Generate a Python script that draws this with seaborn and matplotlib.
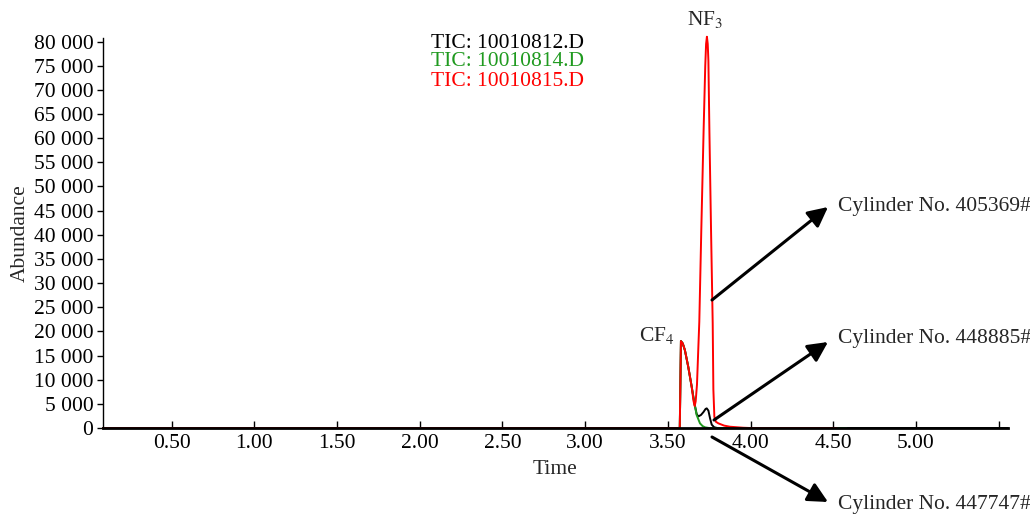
import matplotlib
matplotlib.use("Agg")
import matplotlib.pyplot as plt
from matplotlib.ticker import FuncFormatter, MultipleLocator
import numpy as np
import pandas as pd
import seaborn as sns

# TIC traces (time in min, abundance)
t_812 = [0.085, 3.572, 3.579, 3.590, 3.603, 3.623, 3.644, 3.660, 3.674, 3.684,
         3.700, 3.715, 3.728, 3.735, 3.745, 3.755, 3.765, 3.780, 3.800, 5.556]
a_812 = [0, 0, 18000, 17500, 16100, 12700, 8540, 5200, 2900, 2400,
         2700, 3300, 3950, 4070, 3600, 2000, 700, 150, 0, 0]

t_814 = [0.085, 3.572, 3.579, 3.590, 3.603, 3.623, 3.644, 3.660, 3.674, 3.694,
         3.710, 3.725, 3.750, 4.580]
a_814 = [0, 0, 18000, 17500, 16100, 12700, 8540, 5200, 2690, 970,
         400, 140, 0, 0]

t_815 = [0.085, 3.572, 3.579, 3.590, 3.603, 3.623, 3.644, 3.655, 3.662, 3.668,
         3.676, 3.684, 3.690, 3.702, 3.716, 3.726, 3.731, 3.736, 3.741, 3.745,
         3.751, 3.761, 3.771, 3.775, 3.781, 3.790, 3.805, 3.840, 3.875, 3.955,
         4.000, 4.520]
a_815 = [0, 0, 18000, 17500, 16100, 12700, 8540, 5600, 4550, 5500,
         9000, 16500, 22000, 40900, 61600, 75000, 79500, 81000, 79500, 76000,
         61600, 40900, 21700, 8000, 2340, 1300, 970, 500, 270, 60,
         0, 0]

samples = ["TIC: 10010812.D", "TIC: 10010814.D", "TIC: 10010815.D"]
colors = ["#000000", "#1f9a1f", "#ff0000"]
x_ticks = [0.5, 1.0, 1.5, 2.0, 2.5, 3.0, 3.5, 4.0, 4.5, 5.0, 5.5]
x_labels = ["0.50", "1.00", "1.50", "2.00", "2.50", "3.00", "3.50", "4.00", "4.50", "5.00", ""]
cylinders = ["Cylinder No. 405369#", "Cylinder No. 448885#", "Cylinder No. 447747#"]

df = pd.concat([
    pd.DataFrame({"Time": t, "Abundance": a, "sample": s})
    for t, a, s in zip([t_812, t_814, t_815], [a_812, a_814, a_815], samples)
])

sns.set_theme(style="ticks")
plt.rcParams["font.family"] = ["Liberation Serif", "DejaVu Serif"]
plt.rcParams["mathtext.fontset"] = "stix"

fig = plt.figure(figsize=(10.3, 5.16), dpi=100)
ax = fig.add_axes([0.100, 0.1705, 0.8786, 0.7555])

sns.lineplot(data=df, x="Time", y="Abundance", hue="sample", palette=colors,
             hue_order=samples, estimator=None, sort=False, linewidth=1.4,
             legend=False, ax=ax)
for line in ax.lines:
    line.set_clip_on(False)

ax.set_xlim(0.085, 5.556)
ax.set_ylim(0, 80700)
ax.set_xticks(x_ticks)
ax.set_xticklabels(x_labels)
ax.yaxis.set_major_locator(MultipleLocator(5000))
ax.yaxis.set_major_formatter(FuncFormatter(lambda v, p: f"{int(v):,}".replace(",", " ")))
ax.tick_params(axis="x", direction="in", length=5, width=1, labelsize=15.5, pad=4, colors="black")
ax.tick_params(axis="y", direction="out", length=4, width=1, labelsize=15.5, pad=3, colors="black")
ax.set_xlabel("Time", fontsize=15.5, labelpad=5)
ax.set_ylabel("Abundance", fontsize=15.5, labelpad=3)
sns.despine(ax=ax)
ax.spines["left"].set_linewidth(1.0)
ax.spines["bottom"].set_linewidth(2.0)
ax.spines["left"].set_color("black")
ax.spines["bottom"].set_color("black")

# legend-like header text
for i, (s, c) in enumerate(zip(samples, colors)):
    fig.text(431 / 1030, 1 - (43 + 19 * i) / 516, s, color=c, fontsize=15.5,
             ha="left", va="center")

# peak labels
fig.text(705 / 1030, 1 - 20 / 516, "NF$_3$", fontsize=15.5, ha="center", va="center")
fig.text(657 / 1030, 1 - 335 / 516, "CF$_4$", fontsize=15.5, ha="center", va="center")

# arrows to cylinder labels: (tail px, head px, text y px)
arrows = [((712, 300), (828, 207), 207),
          ((714, 420), (828, 342), 338),
          ((712, 437), (828, 502), 505)]
for (tail, head, ty), name in zip(arrows, cylinders):
    ax.annotate("", xy=(head[0] / 1030, 1 - head[1] / 516), xycoords="figure fraction",
                xytext=(tail[0] / 1030, 1 - tail[1] / 516), textcoords="figure fraction",
                arrowprops=dict(arrowstyle="-|>,head_length=1.0,head_width=0.5",
                                color="black", lw=2.2, shrinkA=0, shrinkB=0),
                annotation_clip=False)
    fig.text(838 / 1030, 1 - ty / 516, name, fontsize=15.5, ha="left", va="center")

fig.savefig("out.png", dpi=100)
